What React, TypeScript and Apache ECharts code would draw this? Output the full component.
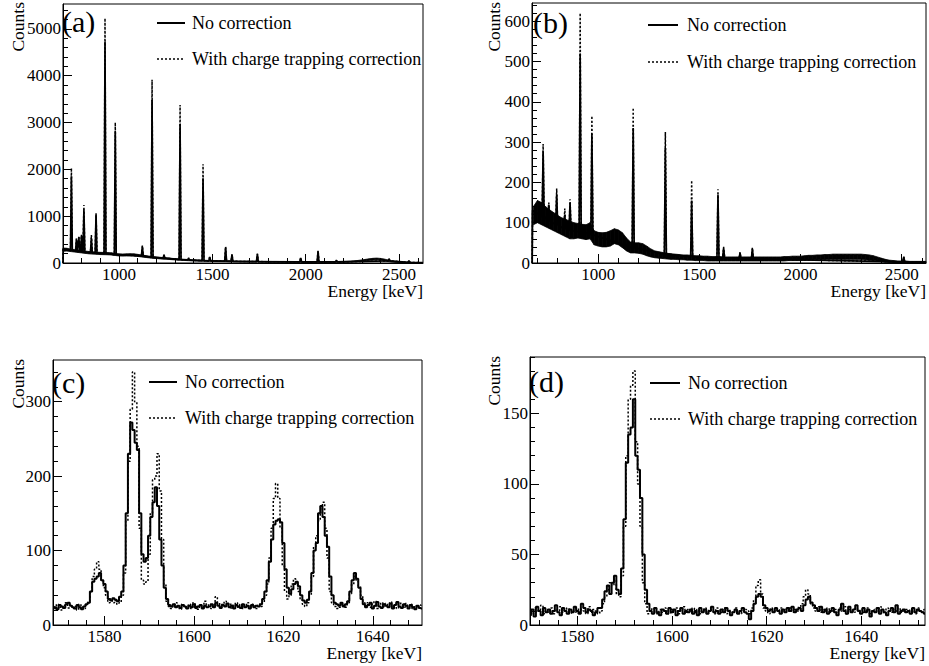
import React, { useEffect, useRef } from 'react';
import * as echarts from 'echarts';

const FONT = "'Liberation Serif', 'Times New Roman', serif";
const NAME_NO = 'No correction';
const NAME_CT = 'With charge trapping correction';

// ---------- Panel (a) ----------
const aXRange = [700, 2628];
const aYMax = 5530;
const aXTicks = [1000, 1500, 2000, 2500];
const aYTicks = [0, 1000, 2000, 3000, 4000, 5000];
const aBgStart = 700;
const aBgStep = 20;
const aBgLow = [
  250, 255, 245, 235, 225, 215, 205, 195, 190, 185, 180, 178, 175, 172, 160, 150, 148, 150, 152, 150,
  140, 130, 120, 110, 100, 95, 88, 82, 78, 72, 66, 60, 56, 52, 48, 45, 42, 40, 38, 36,
  34, 32, 31, 30, 29, 28, 27, 26, 25, 24, 23, 22, 21, 20, 20, 19, 18, 18, 17, 17,
  16, 16, 15, 15, 15, 14, 14, 14, 14, 14, 14, 14, 15, 15, 16, 17, 18, 20, 24, 30,
  38, 48, 58, 66, 70, 62, 48, 32, 20, 14, 10, 8, 6, 5, 4, 3, 2,
];
const aBgHigh = [
  320, 315, 300, 285, 275, 265, 255, 245, 238, 232, 228, 225, 222, 218, 205, 195, 192, 195, 198, 195,
  185, 172, 160, 148, 138, 130, 122, 115, 108, 100, 94, 88, 82, 77, 72, 68, 64, 61, 58, 55,
  53, 51, 49, 47, 46, 45, 44, 43, 42, 41, 40, 39, 38, 37, 37, 36, 35, 35, 34, 34,
  33, 33, 32, 32, 32, 31, 31, 31, 31, 31, 31, 31, 32, 32, 33, 34, 36, 40, 46, 55,
  66, 78, 90, 100, 105, 98, 85, 65, 45, 32, 26, 22, 18, 15, 12, 10, 8,
];
const aEdgeStart = [[700, 0], [701.5, 300]];
const aEdgeEnd = [2627, 6];
const aPeakE = [745, 772, 785, 799, 812, 852, 877, 925, 980, 1125, 1177, 1241, 1327, 1373, 1450, 1486, 1571, 1605, 1741, 1973, 2066, 2164, 2446, 2553];
const aPeakBase = [270, 250, 250, 240, 230, 220, 212, 200, 180, 150, 120, 105, 75, 62, 50, 45, 38, 36, 30, 24, 22, 23, 45, 13];
const aPeakNo = [1850, 500, 550, 580, 1140, 530, 1030, 4725, 2810, 350, 3480, 170, 2970, 100, 1810, 130, 330, 180, 190, 110, 250, 55, 90, 50];
const aPeakCT = [2025, 530, 580, 600, 1240, 600, 1060, 5225, 3000, 370, 3910, 180, 3375, 110, 2110, 140, 350, 190, 200, 115, 270, 60, 95, 60];

// ---------- Panel (b) ----------
const bXRange = [673, 2620];
const bYMax = 645;
const bXTicks = [1000, 1500, 2000, 2500];
const bYTicks = [0, 100, 200, 300, 400, 500, 600];
const bBgStart = 680;
const bBgStep = 20;
const bBgLow = [
  95, 100, 95, 90, 85, 80, 75, 70, 65, 60, 60, 62, 60, 58, 60, 45, 42, 40, 40, 42,
  48, 45, 38, 30, 25, 25, 24, 22, 18, 15, 13, 12, 11, 10, 9, 9, 8, 8, 7, 7,
  6, 6, 6, 5, 5, 5, 5, 5, 5, 5, 5, 5, 5, 5, 5, 5, 5, 5, 5, 5,
  5, 5, 5, 6, 6, 6, 6, 7, 7, 8, 8, 8, 9, 9, 9, 9, 9, 9, 9, 9,
  9, 9, 8, 7, 6, 5, 3, 2, 1, 0, 0, 0, 0, 0, 0, 0, 0, 0,
];
const bBgHigh = [
  140, 155, 150, 140, 132, 125, 118, 112, 108, 104, 100, 98, 96, 95, 100, 80, 76, 75, 76, 80,
  85, 82, 75, 62, 52, 50, 50, 48, 42, 35, 30, 28, 26, 24, 23, 22, 21, 20, 20, 19,
  18, 18, 17, 17, 16, 16, 16, 15, 15, 15, 15, 15, 15, 15, 15, 15, 15, 15, 15, 15,
  15, 15, 16, 16, 17, 17, 17, 18, 19, 19, 20, 20, 21, 21, 22, 22, 22, 22, 22, 22,
  22, 22, 21, 20, 18, 15, 12, 9, 7, 6, 5, 5, 5, 4, 4, 4, 4, 4,
];
const bEdgeStart = [[674, 0], [676, 130]];
const bEdgeEnd = [2619, 2];
const bPeakE = [728, 756, 795, 835, 861, 911, 969, 1173, 1332, 1462, 1592, 1620, 1701, 1762, 2510];
const bPeakBase = [115, 105, 95, 85, 80, 78, 70, 38, 22, 15, 12, 12, 10, 10, 3];
const bPeakNo = [277, 145, 170, 120, 150, 520, 320, 335, 285, 155, 170, 37, 25, 35, 15];
const bPeakCT = [295, 150, 185, 135, 158, 620, 365, 385, 325, 205, 183, 40, 27, 38, 16];

// ---------- Panel (c) ----------
const cXRange = [1568.5, 1651];
const cYMax = 356;
const cXTicks = [1580, 1600, 1620, 1640];
const cYTicks = [0, 100, 200, 300];
const cStart = 1568.5;
const cBin = 0.5;
const cNo = [
  22, 24, 21, 27, 25, 23, 28, 30, 26, 24,
  22, 27, 24, 21, 25, 28, 30, 45, 58, 62,
  65, 70, 60, 55, 45, 35, 33, 36, 34, 32,
  38, 45, 80, 150, 230, 272, 262, 245, 235, 150,
  95, 85, 90, 120, 145, 165, 185, 160, 115, 80,
  50, 35, 27, 25, 28, 24, 26, 23, 27, 25,
  22, 26, 24, 28, 23, 25, 27, 22, 26, 24,
  25, 28, 24, 30, 26, 23, 27, 25, 29, 24,
  26, 22, 27, 25, 23, 28, 24, 26, 22, 27,
  24, 26, 25, 28, 35, 45, 60, 85, 115, 135,
  140, 142, 138, 110, 75, 50, 42, 48, 55, 58,
  52, 40, 33, 30, 34, 45, 70, 100, 110, 150,
  160, 145, 120, 105, 65, 40, 30, 28, 26, 30,
  25, 28, 32, 45, 60, 70, 62, 50, 35, 28,
  24, 27, 30, 22, 26, 31, 25, 23, 28, 26,
  24, 29, 22, 27, 31, 25, 23, 28, 26, 22,
  27, 24, 21, 26, 23, 22,
];
const cCT = [
  25, 22, 28, 24, 20, 26, 30, 23, 27, 22,
  25, 20, 28, 24, 22, 27, 32, 45, 65, 75,
  85, 75, 60, 50, 40, 30, 35, 30, 33, 28,
  30, 40, 70, 140, 220, 290, 340, 300, 240, 130,
  60, 55, 58, 95, 150, 195, 200, 230, 180, 115,
  55, 32, 25, 22, 27, 30, 24, 21, 28, 26,
  24, 28, 22, 30, 25, 21, 27, 24, 32, 26,
  28, 22, 27, 38, 30, 24, 28, 32, 26, 29,
  23, 27, 30, 24, 28, 22, 26, 30, 24, 28,
  26, 22, 28, 25, 30, 40, 55, 90, 130, 170,
  190, 170, 130, 80, 45, 35, 40, 55, 62, 55,
  45, 35, 28, 25, 30, 40, 65, 105, 120, 140,
  150, 165, 130, 90, 45, 30, 25, 22, 24, 28,
  26, 24, 30, 42, 55, 65, 60, 52, 40, 30,
  26, 30, 24, 28, 32, 22, 27, 30, 25, 29,
  27, 31, 24, 28, 22, 30, 26, 24, 29, 25,
  28, 22, 26, 24, 27, 25,
];

// ---------- Panel (d) ----------
const dXRange = [1570, 1653.5];
const dYMax = 190;
const dXTicks = [1580, 1600, 1620, 1640];
const dYTicks = [0, 50, 100, 150];
const dStart = 1570;
const dBin = 0.5;
const dNo = [
  8, 11, 6, 13, 10, 7, 12, 9, 11, 8,
  10, 14, 9, 7, 12, 10, 8, 11, 9, 13,
  10, 8, 15, 12, 9, 11, 10, 7, 9, 12,
  12, 18, 24, 28, 22, 30, 35, 25, 22, 40,
  75, 115, 135, 140, 160, 120, 110, 90, 50, 25,
  15, 10, 8, 12, 9, 7, 11, 10, 8, 12,
  9, 11, 7, 10, 12, 8, 10, 9, 11, 8,
  10, 7, 12, 9, 11, 8, 10, 13, 9, 10,
  8, 11, 9, 12, 10, 7, 9, 11, 8, 10,
  12, 9, 8, 4, 10, 15, 20, 22, 20, 14,
  12, 10, 11, 9, 12, 10, 8, 11, 9, 12,
  10, 13, 9, 11, 12, 10, 14, 18, 20, 16,
  14, 12, 10, 13, 9, 11, 8, 10, 12, 9,
  7, 11, 15, 10, 8, 13, 9, 11, 14, 10,
  8, 12, 9, 11, 6, 10, 9, 12, 8, 11,
  9, 7, 10, 12, 9, 14, 8, 10, 11, 9,
  10, 8, 12, 9, 11, 10, 9, 8,
];
const dCT = [
  10, 7, 12, 9, 11, 14, 8, 10, 9, 12,
  8, 11, 10, 13, 9, 11, 12, 8, 10, 9,
  12, 9, 11, 10, 8, 13, 9, 11, 10, 8,
  10, 15, 20, 25, 30, 28, 32, 22, 20, 35,
  70, 120, 160, 170, 180, 130, 100, 70, 30, 15,
  8, 10, 12, 9, 8, 11, 9, 12, 10, 8,
  11, 9, 12, 8, 10, 13, 9, 11, 10, 12,
  9, 11, 8, 10, 12, 9, 11, 10, 8, 12,
  10, 9, 12, 8, 11, 10, 9, 12, 10, 8,
  9, 11, 10, 8, 12, 18, 28, 32, 22, 12,
  10, 8, 12, 9, 11, 10, 12, 9, 11, 10,
  12, 9, 11, 10, 13, 15, 20, 25, 22, 15,
  12, 10, 13, 9, 11, 10, 12, 9, 10, 11,
  9, 12, 10, 13, 8, 11, 10, 9, 12, 10,
  11, 9, 10, 12, 8, 10, 11, 9, 13, 10,
  8, 12, 10, 9, 11, 10, 12, 9, 10, 11,
  9, 11, 10, 8, 12, 10, 9, 11,
];

// ---------- layout ----------
const grids = [
  { left: 63, top: 4, width: 360, height: 259 },
  { left: 532, top: 3, width: 394, height: 260 },
  { left: 53, top: 360, width: 369, height: 265 },
  { left: 530, top: 357, width: 395, height: 268 },
];
const legendBoxes = [
  { x0: 157, x1: 185, tx: 192, y0: 23, y1: 59 },
  { x0: 648, x1: 678, tx: 687, y0: 25, y1: 62 },
  { x0: 149, x1: 177, tx: 185, y0: 382, y1: 418 },
  { x0: 650, x1: 680, tx: 688, y0: 383, y1: 419 },
];

function stepList(lo: number, hi: number, step: number) {
  const out: number[] = [];
  for (let v = Math.ceil(lo / step - 1e-9) * step; v <= hi + 1e-9; v += step) out.push(+v.toFixed(6));
  return out;
}

function spikes(start: number[][], E: number[], base: number[], h: number[], end: number[]) {
  const pts: number[][] = start.map((p) => p.slice());
  const hw = 5;
  for (let i = 0; i < E.length; i++) {
    pts.push([E[i] - hw, base[i]], [E[i], h[i]], [E[i] + hw, base[i]]);
  }
  pts.push(end);
  return pts;
}

function hist(start: number, bin: number, vals: number[]) {
  return vals.map((v, i) => [+(start + i * bin).toFixed(3), v]);
}

export default function App() {
  const ref = useRef<HTMLDivElement>(null);
  useEffect(() => {
    document.body.style.margin = '0';
    if (!ref.current) return;
    const chart = echarts.init(ref.current, null, { renderer: 'svg' });

    const xAxes: any[] = [];
    const yAxes: any[] = [];
    const axisSpec = [
      { xr: aXRange, xt: aXTicks, xm: 100, ym: aYMax, yt: aYTicks, ymn: 200 },
      { xr: bXRange, xt: bXTicks, xm: 100, ym: bYMax, yt: bYTicks, ymn: 20 },
      { xr: cXRange, xt: cXTicks, xm: 4, ym: cYMax, yt: cYTicks, ymn: 20 },
      { xr: dXRange, xt: dXTicks, xm: 4, ym: dYMax, yt: dYTicks, ymn: 10 },
    ];
    const black = { color: '#000', width: 1 };
    const lbl = { fontSize: 17, fontFamily: FONT, color: '#000', formatter: (v: number) => String(v) };
    axisSpec.forEach((s, g) => {
      xAxes.push({
        type: 'value', gridIndex: g, position: 'bottom', min: s.xr[0], max: s.xr[1],
        axisLine: { show: true, lineStyle: black },
        axisTick: { show: true, inside: true, length: 9, customValues: s.xt, lineStyle: black },
        axisLabel: { show: true, customValues: s.xt, margin: 3, ...lbl },
        splitLine: { show: false },
      });
      xAxes.push({
        type: 'value', gridIndex: g, position: 'bottom', offset: 0, min: s.xr[0], max: s.xr[1],
        axisLine: { show: false },
        axisTick: { show: true, inside: true, length: 5, customValues: stepList(s.xr[0], s.xr[1], s.xm), lineStyle: black },
        axisLabel: { show: false },
        splitLine: { show: false },
      });
      yAxes.push({
        type: 'value', gridIndex: g, position: 'left', min: 0, max: s.ym,
        axisLine: { show: true, lineStyle: black },
        axisTick: { show: true, inside: true, length: 9, customValues: s.yt, lineStyle: black },
        axisLabel: { show: true, customValues: s.yt, margin: 2, ...lbl },
        splitLine: { show: false },
      });
      yAxes.push({
        type: 'value', gridIndex: g, position: 'left', offset: 0, min: 0, max: s.ym,
        axisLine: { show: false },
        axisTick: { show: true, inside: true, length: 5, customValues: stepList(0, s.ym, s.ymn), lineStyle: black },
        axisLabel: { show: false },
        splitLine: { show: false },
      });
    });

    const series: any[] = [];
    const band = (g: number, start: number, step: number, low: number[], high: number[]) => {
      const data = low.slice(0, -1).map((v, i) => [
        start + i * step, v, high[i], start + (i + 1) * step, low[i + 1], high[i + 1],
      ]);
      series.push({
        type: 'custom', name: 'band' + g, xAxisIndex: 2 * g, yAxisIndex: 2 * g, silent: true,
        data,
        encode: { x: [0, 3], y: [1, 2, 4, 5] },
        renderItem: (_p: any, api: any) => {
          const a = api.coord([api.value(0), api.value(1)]);
          const b = api.coord([api.value(3), api.value(4)]);
          const c = api.coord([api.value(3), api.value(5)]);
          const d = api.coord([api.value(0), api.value(2)]);
          return {
            type: 'polygon',
            shape: { points: [a, b, c, d] },
            style: { fill: '#000', stroke: '#000', lineWidth: 0.8 },
          };
        },
      });
    };
    const pair = (g: number, ct: number[][], no: number[][], step: any, wNo: number) => {
      series.push({
        type: 'line', name: NAME_CT, xAxisIndex: 2 * g, yAxisIndex: 2 * g, symbol: 'none', step, color: '#000',
        data: ct, lineStyle: { color: '#000', width: 1.5, type: [2, 2] },
      });
      series.push({
        type: 'line', name: NAME_NO, xAxisIndex: 2 * g, yAxisIndex: 2 * g, symbol: 'none', step, color: '#000',
        data: no, lineStyle: { color: '#000', width: wNo },
      });
    };

    band(0, aBgStart, aBgStep, aBgLow, aBgHigh);
    pair(0, spikes(aEdgeStart, aPeakE, aPeakBase, aPeakCT, aEdgeEnd), spikes(aEdgeStart, aPeakE, aPeakBase, aPeakNo, aEdgeEnd), false, 1.7);
    band(1, bBgStart, bBgStep, bBgLow, bBgHigh);
    pair(1, spikes(bEdgeStart, bPeakE, bPeakBase, bPeakCT, bEdgeEnd), spikes(bEdgeStart, bPeakE, bPeakBase, bPeakNo, bEdgeEnd), false, 1.7);
    pair(2, hist(cStart, cBin, cCT), hist(cStart, cBin, cNo), 'middle', 2);
    pair(3, hist(dStart, dBin, dCT), hist(dStart, dBin, dNo), 'middle', 2);

    const txt = (text: string, x: number, y: number, size: number, align: string, extra: any = {}) => ({
      type: 'text', x, y, ...extra,
      style: { text, fontSize: size, fontFamily: FONT, fill: '#000', align, verticalAlign: 'middle' },
    });
    const graphics: any[] = [];
    legendBoxes.forEach((L) => {
      graphics.push({ type: 'line', shape: { x1: L.x0, y1: L.y0, x2: L.x1, y2: L.y0 }, style: { stroke: '#000', lineWidth: 2 } });
      graphics.push({ type: 'line', shape: { x1: L.x0, y1: L.y1, x2: L.x1, y2: L.y1 }, style: { stroke: '#000', lineWidth: 1.5, lineDash: [2, 2] } });
      graphics.push(txt(NAME_NO, L.tx, L.y0, 18, 'left'));
      graphics.push(txt(NAME_CT, L.tx, L.y1, 18, 'left'));
    });
    graphics.push(
      txt('(a)', 62, 21, 30, 'left'),
      txt('(b)', 533, 22, 30, 'left'),
      txt('(c)', 52, 382, 30, 'left'),
      txt('(d)', 529, 381, 30, 'left'),
      txt('Counts', 18, 2, 17.5, 'right', { rotation: Math.PI / 2 }),
      txt('Counts', 494, 2, 17.5, 'right', { rotation: Math.PI / 2 }),
      txt('Counts', 18, 359, 17.5, 'right', { rotation: Math.PI / 2 }),
      txt('Counts', 494, 356, 17.5, 'right', { rotation: Math.PI / 2 }),
      txt('Energy [keV]', 423, 291, 17.5, 'right'),
      txt('Energy [keV]', 926, 291, 17.5, 'right'),
      txt('Energy [keV]', 422, 653, 17.5, 'right'),
      txt('Energy [keV]', 925, 653, 17.5, 'right'),
    );

    chart.setOption({
      animation: false,
      backgroundColor: '#fff',
      grid: grids.map((g) => ({ ...g, show: true, borderColor: '#000', borderWidth: 1, backgroundColor: 'transparent', containLabel: false, outerBoundsMode: 'none' })),
      xAxis: xAxes,
      yAxis: yAxes,
      series,
      graphic: graphics,
    });
    return () => chart.dispose();
  }, []);
  return <div ref={ref} style={{ width: 929, height: 666 }} />;
}
